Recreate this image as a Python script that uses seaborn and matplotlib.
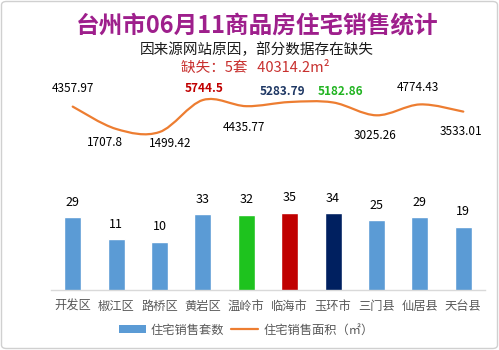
import numpy as np
import pandas as pd
import matplotlib
matplotlib.use("Agg")
import matplotlib.pyplot as plt
import seaborn as sns
from matplotlib.path import Path
from matplotlib.patches import PathPatch, FancyBboxPatch, Patch
from matplotlib.lines import Line2D

# ---- data ----
categories = ["开发区", "椒江区", "路桥区", "黄岩区", "温岭市", "临海市", "玉环市", "三门县", "仙居县", "天台县"]
units_sold = [29, 11, 10, 33, 32, 35, 34, 25, 29, 19]
area_sold = [4357.97, 1707.8, 1499.42, 5744.5, 4435.77, 5283.79, 5182.86, 3025.26, 4774.43, 3533.01]
area_labels = ["4357.97", "1707.8", "1499.42", "5744.5", "4435.77", "5283.79", "5182.86", "3025.26", "4774.43", "3533.01"]
title = "台州市06月11商品房住宅销售统计"
subtitle = "因来源网站原因，部分数据存在缺失"
missing_text = "缺失：5套   40314.2m²"
legend_labels = ["住宅销售套数", "住宅销售面积（㎡）"]

# ---- style ----
sns.set_style("white")
plt.rcParams['font.family'] = ['Noto Sans CJK SC', 'DejaVu Sans']

bar_colors = ["#5B9BD5", "#5B9BD5", "#5B9BD5", "#5B9BD5", "#1EC31E",
              "#C00000", "#002060", "#5B9BD5", "#5B9BD5", "#5B9BD5"]
label_styles = {3: ("#C00000", "bold"), 5: ("#1F3864", "bold"), 6: ("#22B422", "bold")}
# pixel offsets of line labels (dx, dy)
label_offsets = [(0, 18), (-11, -14), (11, -11), (1, 12), (-2, -21),
                 (-7, 11), (7, 11), (-1, -20), (-2, 17), (-2, -20)]

W, H = 499, 350
fig = plt.figure(figsize=(W / 100, H / 100), dpi=100)
ax = fig.add_axes([51 / W, 60 / H, 434 / W, 215 / H])

df = pd.DataFrame({"cat": categories, "units": units_sold})
sns.barplot(data=df, x="cat", y="units", hue="cat", palette=bar_colors,
            legend=False, width=0.39, ax=ax, saturation=1)
ax.set_yscale("log")
ax.set_ylim(1.241, 13420)
ax.set_xlim(-0.5, len(categories) - 0.5)

for i, v in enumerate(units_sold):
    ax.annotate(str(v), (i, v), xytext=(0, 15), textcoords="offset pixels",
                ha="center", va="center", fontsize=9, color="#000000")

# line on secondary log axis, smoothed with cubic Bezier segments
ax2 = ax.twinx()
ax2.set_yscale("log")
ax2.set_ylim(1.99, 16400)
ax2.set_xlim(ax.get_xlim())

xs = np.arange(len(area_sold), dtype=float)
ly = np.log10(np.array(area_sold))
verts = [(xs[0], area_sold[0])]
codes = [Path.MOVETO]
n = len(xs)
for i in range(n - 1):
    p0 = (xs[max(i - 1, 0)], ly[max(i - 1, 0)])
    p1 = (xs[i], ly[i])
    p2 = (xs[i + 1], ly[i + 1])
    p3 = (xs[min(i + 2, n - 1)], ly[min(i + 2, n - 1)])
    t = 1 / 6
    c1 = (p1[0] + (p2[0] - p0[0]) * t, p1[1] + (p2[1] - p0[1]) * t)
    c2 = (p2[0] - (p3[0] - p1[0]) * t, p2[1] - (p3[1] - p1[1]) * t)
    verts += [(c1[0], 10 ** c1[1]), (c2[0], 10 ** c2[1]), (p2[0], 10 ** p2[1])]
    codes += [Path.CURVE4] * 3
ax2.add_patch(PathPatch(Path(verts, codes), fill=False, edgecolor="#ED7D31",
                        lw=1.6, capstyle="round"))

for i, (v, s) in enumerate(zip(area_sold, area_labels)):
    col, wt = label_styles.get(i, ("#000000", "normal"))
    dx, dy = label_offsets[i]
    ax2.annotate(s, (i, v), xytext=(dx, dy), textcoords="offset pixels",
                 ha="center", va="center", fontsize=8.5, color=col, fontweight=wt)

# axes styling
for a in (ax, ax2):
    for sp in ["top", "right", "left"]:
        a.spines[sp].set_visible(False)
    a.set_yticks([])
    a.minorticks_off()
    a.set_ylabel("")
ax2.spines["bottom"].set_visible(False)
ax.spines["bottom"].set_color("#D9D9D9")
ax.spines["bottom"].set_linewidth(1)
ax.set_xlabel("")
ax.set_xticks(range(len(categories)))
ax.set_xticklabels(categories, fontsize=8.8, color="#595959")
ax.tick_params(axis="x", which="major", length=0, pad=7)
ax.set_xticks(np.arange(-0.5, len(categories), 1.0), minor=True)
ax.tick_params(axis="x", which="minor", length=5, color="#D9D9D9", width=1)
ax.yaxis.set_tick_params(which="both", length=0)
ax2.yaxis.set_tick_params(which="both", length=0)
ax2.set_yticklabels([], minor=True)
ax.set_yticklabels([], minor=True)

# titles
fig.text(257 / W, 1 - 25 / H, title, ha="center", va="center", fontsize=17,
         fontweight="bold", color="#9E1F8C")
fig.text(257 / W, 1 - 50 / H, subtitle, ha="center", va="center", fontsize=10.5,
         color="#1A1A1A")
fig.text(255 / W, 1 - 68 / H, missing_text, ha="center", va="center", fontsize=10.5,
         color="#C8302E")

# legend
handles = [Patch(facecolor="#5B9BD5", edgecolor="none"),
           Line2D([0], [0], color="#ED7D31", lw=1.6)]
leg = fig.legend(handles, legend_labels, loc="center", bbox_to_anchor=(246 / W, 1 - 330 / H),
                 ncol=2, frameon=False, fontsize=8.8, handlelength=2.2, handleheight=0.6,
                 columnspacing=0.6, handletextpad=0.4, labelcolor="#595959")

# outer border
fig.patches.append(FancyBboxPatch((1.5 / W, 1.5 / H), (W - 3) / W, (H - 3) / H,
                                  boxstyle="round,pad=0,rounding_size=0.01",
                                  transform=fig.transFigure, fill=False,
                                  edgecolor="#D0D0D0", lw=1))

fig.savefig("out.png", dpi=100)
